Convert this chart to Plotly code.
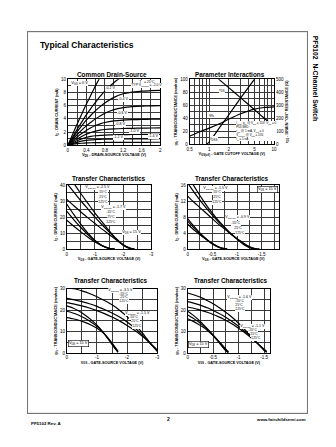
import math
import plotly.graph_objects as go

W, H = 336, 447
FONT = "Liberation Sans, Arial, sans-serif"

# ---------------- Common Drain-Source ----------------
VDS = [0, 0.1, 0.2, 0.3, 0.4, 0.5, 0.6, 0.7, 0.8, 1.0, 1.2, 1.4, 1.6, 1.8, 2.0]
ID_VGS_0V0 = [0, 1.6, 3.2, 4.7, 6.2, 7.6, 9.0, 10.3]
ID_VGS_0V2 = [0, 1.2, 2.4, 3.5, 4.6, 5.6, 6.5, 7.4, 8.2, 9.5, 10.5]
ID_VGS_0V4 = [0, 1.05, 2.05, 2.95, 3.8, 4.55, 5.25, 5.85, 6.4, 7.25, 7.8, 8.05, 8.2, 8.25, 8.3]
ID_VGS_0V6 = [0, 0.85, 1.6, 2.3, 2.95, 3.5, 4.0, 4.45, 4.85, 5.4, 5.7, 5.85, 5.92, 5.96, 6.0]
ID_VGS_0V8 = [0, 0.65, 1.25, 1.8, 2.25, 2.65, 3.0, 3.25, 3.45, 3.7, 3.82, 3.88, 3.92, 3.95, 3.97]
ID_VGS_1V0 = [0, 0.5, 0.95, 1.35, 1.7, 1.95, 2.15, 2.3, 2.4, 2.5, 2.55, 2.58, 2.6, 2.62, 2.64]
ID_VGS_1V2 = [0, 0.38, 0.7, 0.98, 1.2, 1.35, 1.45, 1.52, 1.56, 1.6, 1.62, 1.64, 1.65, 1.66, 1.67]
ID_VGS_1V4 = [0, 0.25, 0.46, 0.63, 0.75, 0.83, 0.88, 0.91, 0.93, 0.95, 0.96, 0.97, 0.98, 0.99, 1.0]
ID_VGS_1V6 = [0, 0.14, 0.25, 0.32, 0.37, 0.4, 0.42, 0.43, 0.44, 0.45, 0.45, 0.46, 0.46, 0.47, 0.47]
OUTPUT_CURVES = [ID_VGS_0V0, ID_VGS_0V2, ID_VGS_0V4, ID_VGS_0V6, ID_VGS_0V8,
                 ID_VGS_1V0, ID_VGS_1V2, ID_VGS_1V4, ID_VGS_1V6]
VGS_STEP_LABELS = ["-0.2 V", "-0.4 V", "-0.6 V", "-0.8 V", "-1.0 V", "-1.2 V", "-1.4 V"]

# ---------------- Parameter Interactions ----------------
VP_IDSS = [0.9, 1.0, 1.5, 2.0, 3.0, 4.0, 5.0]
IDSS = [0, 3.5, 28, 45, 70, 87, 100]
VP_RDS = [1.4, 2, 3, 5, 7, 10]
RDS = [500, 435, 360, 265, 202, 137]
VP_GFS = [0.5, 0.7, 1.0, 1.5, 2, 3, 5, 7, 10]
GFS = [12.5, 19, 25, 32.5, 38.5, 46.5, 54, 56.5, 57.5]

# ---------------- Transfer Characteristics (ID, wide range) ----------------
VGS_A = [0, -0.25, -0.5, -0.75, -1.0, -1.25, -1.5, -1.75, -2.0, -2.25, -2.4]
ID_A_M55 = [48, 41, 34.5, 28.5, 22.5, 17, 11.5, 6.5, 2.5, 0.3, 0]
ID_A_25 = [41, 35.5, 30, 25, 20, 15.2, 10.8, 6.5, 2.8, 0.5, 0]
ID_A_125 = [31, 27, 23.2, 19.5, 16, 12.5, 9.2, 5.8, 2.8, 0.7, 0.1]
VGS_B = [0, -0.25, -0.5, -0.75, -1.0, -1.25, -1.5, -1.6, -1.7]
ID_B_M55 = [28, 21.5, 15.5, 10, 5.5, 2.2, 0.4, 0.05, 0]
ID_B_25 = [23.5, 18.3, 13.5, 9, 5.2, 2.3, 0.5, 0.15, 0]
ID_B_125 = [18, 14.3, 10.8, 7.5, 4.5, 2.2, 0.6, 0.25, 0.05]

# ---------------- Transfer Characteristics (ID, narrow range) ----------------
VGS_C = [0, -0.1, -0.2, -0.3, -0.4, -0.5, -0.6, -0.7, -0.8, -0.9, -1.0, -1.1, -1.2, -1.3, -1.4, -1.45]
ID_C_M55 = [18.5, 16.3, 14.3, 12.4, 10.6, 9.0, 7.5, 6.1, 4.8, 3.6, 2.5, 1.5, 0.7, 0.2, 0.0, 0.0]
ID_C_25 = [16.5, 14.7, 13.0, 11.4, 9.9, 8.5, 7.1, 5.9, 4.7, 3.6, 2.6, 1.7, 0.9, 0.3, 0.02, 0.0]
ID_C_125 = [13.2, 12.0, 10.9, 9.8, 8.7, 7.6, 6.5, 5.5, 4.5, 3.5, 2.6, 1.8, 1.0, 0.4, 0.05, 0.0]
VGS_D = [0, -0.1, -0.2, -0.3, -0.4, -0.5, -0.6, -0.7, -0.8]
ID_D_M55 = [7.6, 6.1, 4.7, 3.4, 2.3, 1.3, 0.6, 0.15, 0]
ID_D_25 = [7.0, 5.7, 4.5, 3.3, 2.3, 1.4, 0.7, 0.2, 0]
ID_D_125 = [6.2, 5.1, 4.1, 3.1, 2.2, 1.4, 0.75, 0.25, 0.02]

# ---------------- Transconductance, wide range ----------------
VGS_E = [0, -0.25, -0.5, -0.75, -1.0, -1.25, -1.5, -1.75, -2.0, -2.25, -2.5, -2.75, -3.0]
GFS_E_M55 = [30.5, 30, 29, 27.8, 26.3, 24.5, 22.5, 20, 17, 13.5, 9.5, 5, 0.8]
GFS_E_25 = [25.5, 24.8, 24, 23, 21.8, 20.3, 18.7, 16.8, 14.5, 11.8, 8.5, 4.8, 1.0]
GFS_E_125 = [23.5, 22.8, 22.0, 21.0, 19.8, 18.4, 16.8, 15.0, 12.9, 10.6, 7.9, 4.8, 1.5]
VGS_F = [0, -0.2, -0.4, -0.6, -0.8, -1.0, -1.2, -1.4, -1.6, -1.7]
GFS_F_M55 = [22, 21, 19.6, 17.8, 15.6, 13.0, 9.8, 6.0, 2.0, 0.3]
GFS_F_25 = [19.5, 18.7, 17.6, 16.2, 14.5, 12.5, 9.8, 6.3, 2.4, 0.5]
GFS_F_125 = [16.5, 16.0, 15.3, 14.3, 13.1, 11.6, 9.5, 6.5, 2.8, 0.8]

# ---------------- Transconductance, narrow range ----------------
VGS_G = [0, -0.1, -0.2, -0.3, -0.4, -0.5, -0.6, -0.7, -0.8, -0.9, -1.0, -1.1, -1.2, -1.3, -1.4, -1.5, -1.55]
GFS_G_M55 = [28, 27.3, 26.5, 25.5, 24.3, 23.0, 21.5, 19.9, 18.1, 16.1, 13.9, 11.5, 9.0, 6.4, 3.8, 1.3, 0.3]
GFS_G_25 = [24, 23.4, 22.7, 21.9, 21.0, 19.9, 18.7, 17.4, 15.9, 14.3, 12.5, 10.5, 8.4, 6.1, 3.8, 1.5, 0.5]
GFS_G_125 = [21.5, 21.0, 20.4, 19.7, 18.9, 18.0, 17.0, 15.9, 14.6, 13.2, 11.6, 9.9, 8.0, 6.0, 3.9, 1.8, 0.8]
VGS_H = [0, -0.1, -0.2, -0.3, -0.4, -0.5, -0.6, -0.7, -0.75, -0.8]
GFS_H_M55 = [19.5, 17.8, 15.8, 13.5, 11.0, 8.3, 5.4, 2.4, 1.0, 0.2]
GFS_H_25 = [17.8, 16.4, 14.8, 12.9, 10.7, 8.3, 5.6, 2.8, 1.4, 0.4]
GFS_H_125 = [16.0, 14.9, 13.6, 12.1, 10.3, 8.2, 5.8, 3.2, 1.8, 0.6]

TEMPS = ["-55°C", "25°C", "125°C"]

# ---------------- tick / grid positions ----------------
X1_GRID = [0, 0.2, 0.4, 0.6, 0.8, 1.0, 1.2, 1.4, 1.6, 1.8, 2.0]
X1_TEXT = ["0", "", "0.4", "", "0.8", "", "1.2", "", "1.6", "", "2"]
Y1_GRID = [0, 1, 2, 3, 4, 5, 6, 7, 8, 9, 10]
Y1_TEXT = ["0", "", "2", "", "4", "", "6", "", "8", "", "10"]
X2_GRID = [0.5, 0.6, 0.7, 0.8, 0.9, 1, 2, 3, 4, 5, 6, 7, 8, 9, 10]
X2_TEXT = ["0.5", "", "", "", "", "1", "2", "", "", "5", "", "", "", "", "10"]
Y2_GRID = [0, 10, 20, 30, 40, 50, 60, 70, 80, 90, 100]
Y2_TEXT = ["0", "", "20", "", "40", "", "60", "", "80", "", "100"]
Y2R_TICKS = [0, 100, 200, 300, 400, 500]
X35_GRID = [0, -0.5, -1, -1.5, -2, -2.5, -3]
X35_TEXT = ["0", "", "-1", "", "-2", "", "-3"]
X46_GRID = [0, -0.25, -0.5, -0.75, -1, -1.25, -1.5, -1.75]
X46_TEXT = ["0", "", "-0.5", "", "-1", "", "-1.5", ""]
Y3_GRID = [0, 5, 10, 15, 20, 25, 30, 35, 40]
Y3_TEXT = ["0", "", "10", "", "20", "", "30", "", "40"]
Y4_GRID = [0, 2, 4, 6, 8, 10, 12, 14, 16]
Y4_TEXT = ["0", "", "4", "", "8", "", "12", "", "16"]
Y56_GRID = [0, 5, 10, 15, 20, 25, 30]
Y56_TEXT = ["0", "", "10", "", "20", "", "30"]

# plot-area boxes in page pixels (x0, x1, y0, y1)
BOXES = {
    1: (66, 160, 78, 145),
    2: (190, 276, 78, 144),
    3: (65, 151, 185, 250),
    4: (188, 281, 185, 250),
    5: (65, 157, 290, 355),
    6: (188, 272, 290, 355),
}
# page frame around the chart block, in page pixels
FRAME_X = [25, 310, 310, 25, 25]
FRAME_Y = [30, 30, 416, 416, 30]


def px(x):
    return x / W


def py(y):
    return 1 - y / H


fig = go.Figure()

# page frame: its own pixel-unit subplot whose mirrored axis lines form the border
fig.add_trace(go.Scatter(x=FRAME_X, y=FRAME_Y, mode="lines", line=dict(color="#767676", width=1),
                         xaxis="x8", yaxis="y8", hoverinfo="skip", showlegend=False, cliponaxis=False))


def curve(x, y, n, yref=None, width=1.2):
    fig.add_trace(go.Scatter(
        x=x, y=y, mode="lines", line=dict(color="black", width=width, shape="spline", smoothing=0.6),
        xaxis=f"x{n}", yaxis=yref or f"y{n}", hoverinfo="skip", showlegend=False))


# Common Drain-Source
for ys in OUTPUT_CURVES:
    curve(VDS[:len(ys)], ys, 1)
# Parameter Interactions
curve(VP_IDSS, IDSS, 2)
curve(VP_GFS, GFS, 2)
curve(VP_RDS, RDS, 2, yref="y7")
# Transfer characteristics
for ys in (ID_A_M55, ID_A_25, ID_A_125):
    curve(VGS_A, ys, 3)
for ys in (ID_B_M55, ID_B_25, ID_B_125):
    curve(VGS_B, ys, 3)
for ys in (ID_C_M55, ID_C_25, ID_C_125):
    curve(VGS_C, ys, 4)
for ys in (ID_D_M55, ID_D_25, ID_D_125):
    curve(VGS_D, ys, 4)
for ys in (GFS_E_M55, GFS_E_25, GFS_E_125):
    curve(VGS_E, ys, 5)
for ys in (GFS_F_M55, GFS_F_25, GFS_F_125):
    curve(VGS_F, ys, 5)
for ys in (GFS_G_M55, GFS_G_25, GFS_G_125):
    curve(VGS_G, ys, 6)
for ys in (GFS_H_M55, GFS_H_25, GFS_H_125):
    curve(VGS_H, ys, 6)

AX = dict(showline=True, mirror=True, linecolor="black", linewidth=1,
          showgrid=True, gridcolor="#3a3a3a", gridwidth=0.5, zeroline=False,
          ticks="", tickmode="array", fixedrange=True,
          tickfont=dict(size=4.5, family=FONT, color="black"))
TITLE_FONT = dict(size=3.8, family=FONT, color="black")


def xaxis(n, rng, vals, text, title, axtype="linear"):
    x0, x1, y0, y1 = BOXES[n]
    return dict(AX, domain=[px(x0), px(x1)], range=rng, type=axtype, tickvals=vals, ticktext=text,
                anchor=f"y{n}", title=dict(text=title, font=TITLE_FONT, standoff=1))


def yaxis(n, rng, vals, text, title):
    x0, x1, y0, y1 = BOXES[n]
    return dict(AX, domain=[py(y1), py(y0)], range=rng, tickvals=vals, ticktext=text,
                anchor=f"x{n}", title=dict(text=title, font=TITLE_FONT, standoff=2))


FRAME_AX = dict(showline=True, mirror=True, linecolor="#767676", linewidth=1, showgrid=False,
                zeroline=False, showticklabels=False, ticks="", fixedrange=True)

VGS_TITLE = "<b>V<sub>GS</sub> - GATE-SOURCE VOLTAGE (V)</b>"
ID_TITLE = "<b>I<sub>D</sub> - DRAIN CURRENT (mA)</b>"
GFS_TITLE = "<b>g<sub>fs</sub> - TRANSCONDUCTANCE (mmhos)</b>"

layout = dict(
    width=W, height=H, margin=dict(l=0, r=0, t=0, b=0),
    # transparent plot backgrounds so the frame subplot does not hide the charts
    paper_bgcolor="white", plot_bgcolor="rgba(0,0,0,0)", showlegend=False,
    font=dict(family=FONT, color="black"),
    xaxis=xaxis(1, [0, 2], X1_GRID, X1_TEXT, "<b>V<sub>DS</sub> - DRAIN-SOURCE VOLTAGE (V)</b>"),
    yaxis=yaxis(1, [0, 10], Y1_GRID, Y1_TEXT, ID_TITLE),
    xaxis2=xaxis(2, [math.log10(0.5), 1], X2_GRID, X2_TEXT,
                 "<b>V<sub>GS(off)</sub> - GATE CUTOFF VOLTAGE (V)</b>", axtype="log"),
    yaxis2=yaxis(2, [0, 100], Y2_GRID, Y2_TEXT, GFS_TITLE),
    xaxis3=xaxis(3, [0, -3], X35_GRID, X35_TEXT, VGS_TITLE),
    yaxis3=yaxis(3, [0, 40], Y3_GRID, Y3_TEXT, ID_TITLE),
    xaxis4=xaxis(4, [0, -1.85], X46_GRID, X46_TEXT, VGS_TITLE),
    yaxis4=yaxis(4, [0, 16], Y4_GRID, Y4_TEXT, ID_TITLE),
    xaxis5=xaxis(5, [0, -3], X35_GRID, X35_TEXT, VGS_TITLE),
    yaxis5=yaxis(5, [0, 30], Y56_GRID, Y56_TEXT, GFS_TITLE),
    xaxis6=xaxis(6, [0, -1.62], X46_GRID, X46_TEXT, VGS_TITLE),
    yaxis6=yaxis(6, [0, 30], Y56_GRID, Y56_TEXT, GFS_TITLE),
    xaxis8=dict(FRAME_AX, domain=[px(min(FRAME_X)), px(max(FRAME_X))],
                range=[min(FRAME_X), max(FRAME_X)], anchor="y8"),
    yaxis8=dict(FRAME_AX, domain=[py(max(FRAME_Y)), py(min(FRAME_Y))],
                range=[max(FRAME_Y), min(FRAME_Y)], anchor="x8"),
)
y7 = yaxis(2, [0, 500], Y2R_TICKS, [str(v) for v in Y2R_TICKS],
           "<b>r<sub>DS</sub> - DRAIN \"ON\" RESISTANCE (Ω)</b>")
y7.update(overlaying="y2", side="right", showgrid=False, anchor="x2")
layout["yaxis7"] = y7
fig.update_layout(**layout)

ann = []


def page_text(x, y, text, size, xanchor="center", yanchor="middle", angle=0):
    ann.append(dict(xref="paper", yref="paper", x=px(x), y=py(y), text=text, showarrow=False,
                    xanchor=xanchor, yanchor=yanchor, textangle=angle,
                    font=dict(size=size, family=FONT, color="black")))


def label(n, x, y, text, size=3.6, border=False, align="center", xanchor="center"):
    ann.append(dict(xref=f"x{n}", yref=f"y{n}", x=x, y=y, text=text, showarrow=False,
                    xanchor=xanchor, yanchor="middle", align=align,
                    bgcolor="white", borderpad=0.3,
                    bordercolor="black" if border else "rgba(0,0,0,0)", borderwidth=0.6 if border else 0,
                    font=dict(size=size, family=FONT, color="black")))


# page furniture
page_text(36, 43, "<b>Typical Characteristics</b>", 8.6, xanchor="left")
page_text(319, 77, "<b>PF5102  N-Channel Switch</b>", 6.8, angle=90)
page_text(26, 426, "<b>PF5102 Rev. A</b>", 4.4, xanchor="left")
page_text(168, 422, "<b>2</b>", 5)
page_text(311, 422, "<b>www.fairchildsemi.com</b>", 4.4, xanchor="right")

# chart titles
page_text(111, 73, "<b>Common Drain-Source</b>", 6.4)
page_text(231, 73, "<b>Parameter Interactions</b>", 6.4)
page_text(108, 178, "<b>Transfer Characteristics</b>", 6.4)
page_text(233, 178, "<b>Transfer Characteristics</b>", 6.4)
page_text(110, 282, "<b>Transfer Characteristics</b>", 6.4)
page_text(232, 282, "<b>Transfer Characteristics</b>", 6.4)

# Common Drain-Source curve labels
label(1, 0.25, 9.4, "V<sub>GS</sub> = 0 V", 3.8)
label(1, 1.72, 9.55, "T<sub>A</sub> = 25°C", 3.4)
label(1, 1.72, 9.05, "TYP V<sub>GS(off)</sub> = -2.0 V", 3.4)
for (xv, yv), txt in zip([(0.92, 8.6), (1.2, 6.9), (1.18, 4.8), (1.15, 3.1), (1.45, 2.15), (1.1, 1.15), (1.85, 1.3)],
                         VGS_STEP_LABELS):
    label(1, xv, yv, txt)

# Parameter Interactions labels (log axis positions in decades)
label(2, math.log10(1.6), 83, "r<sub>DS</sub>", 4.2)
label(2, math.log10(1.1), 45, "g<sub>fs</sub>", 4.2)
label(2, math.log10(1.2), 8, "I<sub>DSS</sub>", 4.2)
label(2, math.log10(2.6), 21,
      "I<sub>DSS</sub>, g<sub>fs</sub> @ V<sub>DS</sub> = 15V, V<sub>GS</sub> = 0<br>"
      "PULSED<br>r<sub>DS</sub> @ 1 mA, V<sub>GS</sub> = 0<br>"
      "V<sub>GS(off)</sub> @ V<sub>DS</sub> = 15V,<br>I<sub>D</sub> = 1 nA", 3.0, align="left", xanchor="left")

# Transfer characteristic labels
label(3, -1.08, 38.2, "V<sub>GS(off)</sub> = -2.5 V")
for yv, t in zip([35, 32, 29], TEMPS):
    label(3, -1.29, yv, t, 3.3)
label(3, -1.64, 25.8, "V<sub>GS(off)</sub> = -1.7 V")
for yv, t in zip([22.8, 19.7, 16.6], TEMPS):
    label(3, -1.57, yv, t, 3.3)
label(3, -2.3, 10.3, "V<sub>DS</sub> = 15 V", 3.8)

label(4, -0.57, 15.2, "V<sub>GS(off)</sub> = -1.5 V")
for yv, t in zip([14.0, 12.8, 11.6], TEMPS):
    label(4, -0.6, yv, t, 3.3)
label(4, -1.01, 7.8, "V<sub>GS(off)</sub> = -0.9 V")
for xv, yv, t in zip([-0.97, -1.03, -1.07], [6.4, 5.2, 4.0], TEMPS):
    label(4, xv, yv, t, 3.3)
label(4, -1.61, 14.8, "V<sub>DS</sub> = 15 V", 3.8, border=True)

label(5, -1.79, 29.0, "V<sub>GS(off)</sub> = -3.5 V")
for yv, t in zip([27.4, 25.7, 24.0], TEMPS):
    label(5, -1.9, yv, t, 3.3)
label(5, -2.36, 18.5, "V<sub>GS(off)</sub> = -1.5 V")
for xv, yv, t in zip([-2.23, -2.28, -2.34], [16.6, 14.6, 12.6], TEMPS):
    label(5, xv, yv, t, 3.3)
label(5, -0.4, 4.3, "V<sub>DS</sub> = 15 V", 3.8, border=True)

label(6, -1.02, 25.8, "V<sub>GS(off)</sub> = -1.6 V")
for yv, t in zip([24.0, 22.2, 20.4], TEMPS):
    label(6, -1.02, yv, t, 3.3)
label(6, -1.27, 12.6, "V<sub>GS(off)</sub> = -1.1 V")
for xv, yv, t in zip([-1.28, -1.31, -1.34], [10.7, 8.8, 6.9], TEMPS):
    label(6, xv, yv, t, 3.3)
label(6, -0.21, 3.9, "V<sub>DS</sub> = 15 V", 3.8, border=True)

fig.update_layout(annotations=ann)

fig.write_html("out.html")
